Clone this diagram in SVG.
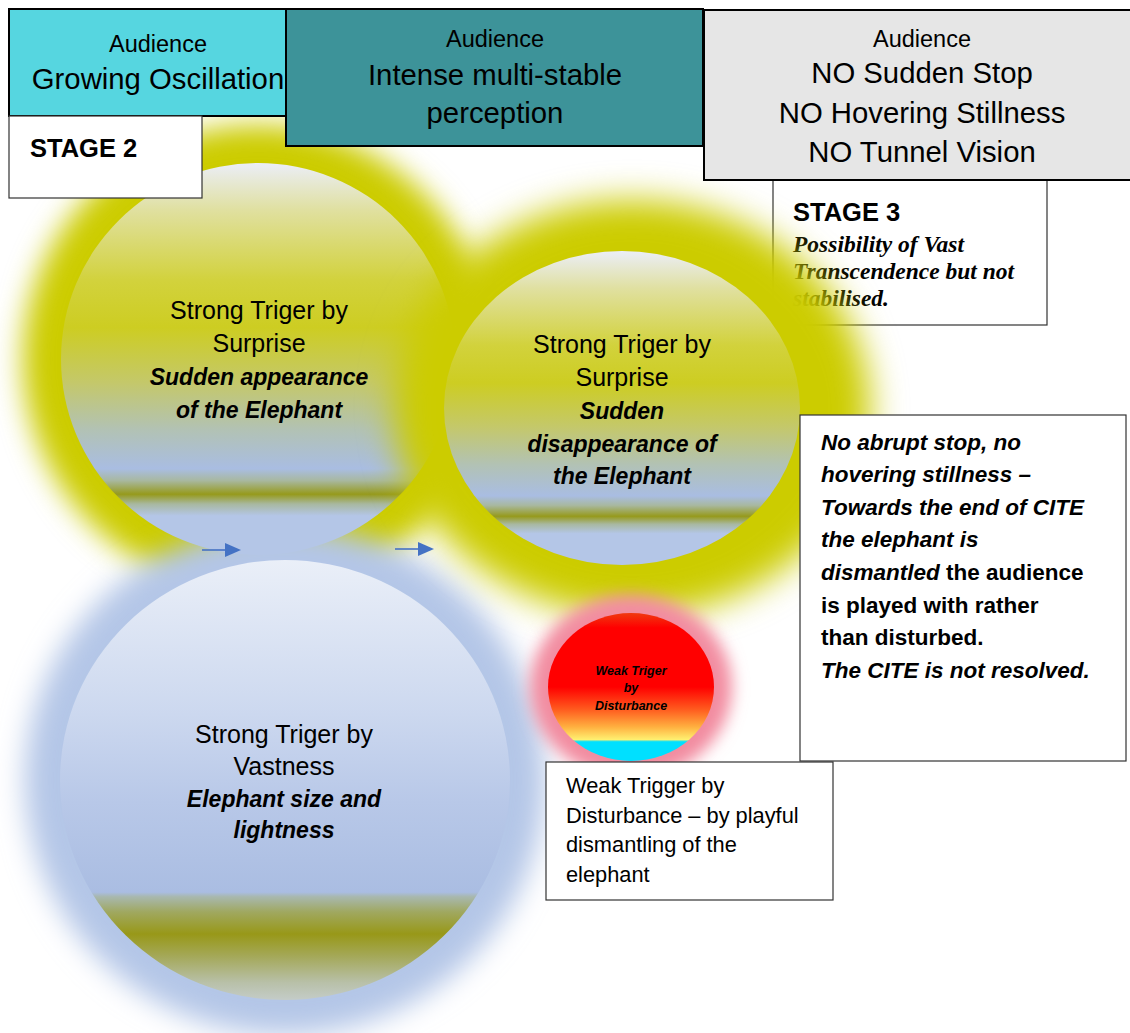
<svg xmlns="http://www.w3.org/2000/svg" width="1130" height="1033" viewBox="0 0 1130 1033">
<style>
.sans{font-family:"Liberation Sans",Arial,sans-serif;fill:#000}
.serif{font-family:"Liberation Serif","Times New Roman",serif;fill:#000}
.c{text-anchor:middle}
.b{font-weight:bold}
.bi{font-weight:bold;font-style:italic}
.box{stroke:#000;stroke-width:2}
.wbox{fill:#fff;stroke:#333;stroke-width:1.2}
.arrow{stroke:#4472c4;stroke-width:1.6;fill:none}
</style>
<defs>
<filter id="glowL" x="-40%" y="-40%" width="180%" height="180%"><feGaussianBlur stdDeviation="14"/></filter>
<filter id="glowXL" x="-40%" y="-40%" width="180%" height="180%"><feGaussianBlur stdDeviation="17"/></filter>
<filter id="glowS" x="-40%" y="-40%" width="180%" height="180%"><feGaussianBlur stdDeviation="8"/></filter>
<linearGradient id="gYellow" x1="0" y1="0" x2="0" y2="1">
<stop offset="0" stop-color="#ebeef7"/>
<stop offset="0.12" stop-color="#e0e0a0"/>
<stop offset="0.3" stop-color="#d2d23c"/>
<stop offset="0.42" stop-color="#cdcd22"/>
<stop offset="0.56" stop-color="#c4c86a"/>
<stop offset="0.68" stop-color="#b2c2b4"/>
<stop offset="0.78" stop-color="#a9bde2"/>
<stop offset="0.81" stop-color="#a8b8a0"/>
<stop offset="0.845" stop-color="#969a1c"/>
<stop offset="0.87" stop-color="#a8b8a0"/>
<stop offset="0.9" stop-color="#b4c6e7"/>
<stop offset="1" stop-color="#b4c6e7"/>
</linearGradient>
<linearGradient id="gBlue" x1="0" y1="0" x2="0" y2="1">
<stop offset="0" stop-color="#eaeff8"/>
<stop offset="0.35" stop-color="#ccd8ef"/>
<stop offset="0.55" stop-color="#b8c8e8"/>
<stop offset="0.755" stop-color="#aabde2"/>
<stop offset="0.765" stop-color="#a8b8b0"/>
<stop offset="0.8" stop-color="#a0a860"/>
<stop offset="0.85" stop-color="#989818"/>
<stop offset="0.9" stop-color="#a4a858"/>
<stop offset="0.96" stop-color="#b8c0a8"/>
<stop offset="1" stop-color="#c4ccc8"/>
</linearGradient>
<linearGradient id="gRed" x1="0" y1="0" x2="0" y2="1">
<stop offset="0" stop-color="#f03a10"/>
<stop offset="0.1" stop-color="#ff0000"/>
<stop offset="0.5" stop-color="#ff0000"/>
<stop offset="0.65" stop-color="#ff5a1e"/>
<stop offset="0.77" stop-color="#ffb040"/>
<stop offset="0.855" stop-color="#fff070"/>
<stop offset="0.87" stop-color="#00e0ff"/>
<stop offset="1" stop-color="#00e0ff"/>
</linearGradient>
<marker id="ah" viewBox="0 0 16 14" refX="0" refY="7" markerWidth="16" markerHeight="14" markerUnits="userSpaceOnUse" orient="auto">
<path d="M0,0 L16,7 L0,14 Z" fill="#4472c4"/>
</marker>
</defs>

<g id="circle-surprise-appearance-glow">
<ellipse cx="258" cy="359" rx="235" ry="234" fill="#cccc00" filter="url(#glowL)"/>
</g>
<g id="circle-vastness-glow">
<ellipse cx="285" cy="780" rx="260" ry="255" fill="#b4c6e7" filter="url(#glowL)"/>
</g>
<g id="circle-surprise-appearance">
<ellipse cx="258" cy="359" rx="197" ry="196" fill="url(#gYellow)"/>
<text class="sans c" font-size="25" x="259" y="319">Strong Triger by</text>
<text class="sans c" font-size="25" x="259" y="352">Surprise</text>
<text class="sans c bi" font-size="23" x="259" y="385">Sudden appearance</text>
<text class="sans c bi" font-size="23" x="259" y="418">of the Elephant</text>
</g>

<g id="stage3">
<rect class="wbox" x="773" y="180" width="274" height="145"/>
<text class="sans b" font-size="25.5" x="793" y="221">STAGE 3</text>
<text class="serif bi" font-size="23.5" x="793" y="252">Possibility of Vast</text>
<text class="serif bi" font-size="23.5" x="793" y="279">Transcendence but not</text>
<text class="serif bi" font-size="23.5" x="793" y="306">stabilised.</text>
</g>

<g id="circle-surprise-disappearance">
<ellipse cx="632" cy="408" rx="238" ry="208" fill="#cccc00" filter="url(#glowXL)"/>
<ellipse cx="622" cy="408" rx="178" ry="157" fill="url(#gYellow)"/>
<text class="sans c" font-size="25" x="622" y="353">Strong Triger by</text>
<text class="sans c" font-size="25" x="622" y="386">Surprise</text>
<text class="sans c bi" font-size="23" x="622" y="419">Sudden</text>
<text class="sans c bi" font-size="23" x="622" y="452">disappearance of</text>
<text class="sans c bi" font-size="23" x="622" y="484">the Elephant</text>
</g>

<g id="circle-vastness">
<ellipse cx="285" cy="780" rx="225" ry="220" fill="url(#gBlue)"/>
<text class="sans c" font-size="25" x="284" y="743">Strong Triger by</text>
<text class="sans c" font-size="25" x="284" y="775">Vastness</text>
<text class="sans c bi" font-size="23" x="284" y="807">Elephant size and</text>
<text class="sans c bi" font-size="23" x="284" y="838">lightness</text>
</g>

<g id="circle-disturbance">
<ellipse cx="631" cy="687" rx="101" ry="92" fill="#f28ca0" filter="url(#glowS)"/>
<ellipse cx="631" cy="687" rx="83" ry="74" fill="url(#gRed)"/>
<text class="sans c bi" font-size="12.5" x="631" y="675">Weak Triger</text>
<text class="sans c bi" font-size="12.5" x="631" y="692">by</text>
<text class="sans c bi" font-size="12.5" x="631" y="710">Disturbance</text>
</g>

<g id="connectors">
<line class="arrow" x1="202" y1="550" x2="225" y2="550" marker-end="url(#ah)"/>
<line class="arrow" x1="395" y1="549" x2="418" y2="549" marker-end="url(#ah)"/>
</g>

<g id="audience-growing">
<rect class="box" x="9" y="9" width="278" height="107" fill="#56d6e0"/>
<text class="sans c" font-size="23.5" x="158" y="52">Audience</text>
<text class="sans c" font-size="29.3" x="158" y="89">Growing Oscillation</text>
</g>
<g id="stage2">
<rect class="wbox" x="9" y="116" width="193" height="82"/>
<text class="sans b" font-size="25.5" x="30" y="157">STAGE 2</text>
</g>
<g id="audience-intense">
<rect class="box" x="286" y="9" width="417" height="137" fill="#3d9399"/>
<text class="sans c" font-size="23.5" x="495" y="47">Audience</text>
<text class="sans c" font-size="29.3" x="495" y="85">Intense multi-stable</text>
<text class="sans c" font-size="29.3" x="495" y="123">perception</text>
</g>
<g id="audience-no">
<rect class="box" x="704" y="10" width="440" height="170" fill="#e6e6e6"/>
<text class="sans c" font-size="23.5" x="922" y="47">Audience</text>
<text class="sans c" font-size="29.3" x="922" y="83">NO Sudden Stop</text>
<text class="sans c" font-size="29.3" x="922" y="123">NO Hovering Stillness</text>
<text class="sans c" font-size="29.3" x="922" y="162">NO Tunnel Vision</text>
</g>

<g id="note-dismantled">
<rect class="wbox" x="800" y="415" width="326" height="346"/>
<text class="sans bi" font-size="22.5" x="821" y="450">No abrupt stop, no</text>
<text class="sans bi" font-size="22.5" x="821" y="482">hovering stillness –</text>
<text class="sans bi" font-size="22.5" x="821" y="515">Towards the end of CITE</text>
<text class="sans bi" font-size="22.5" x="821" y="547">the elephant is</text>
<text class="sans b" font-size="22.5" x="821" y="580"><tspan font-style="italic">dismantled</tspan> the audience</text>
<text class="sans b" font-size="22.5" x="821" y="613">is played with rather</text>
<text class="sans b" font-size="22.5" x="821" y="645">than disturbed.</text>
<text class="sans bi" font-size="22.5" x="821" y="678">The CITE is not resolved.</text>
</g>

<g id="note-weak-trigger">
<rect class="wbox" x="546" y="762" width="287" height="138"/>
<text class="sans" font-size="21.8" x="566" y="793">Weak Trigger by</text>
<text class="sans" font-size="21.8" x="566" y="823">Disturbance – by playful</text>
<text class="sans" font-size="21.8" x="566" y="852">dismantling of the</text>
<text class="sans" font-size="21.8" x="566" y="882">elephant</text>
</g>
</svg>
